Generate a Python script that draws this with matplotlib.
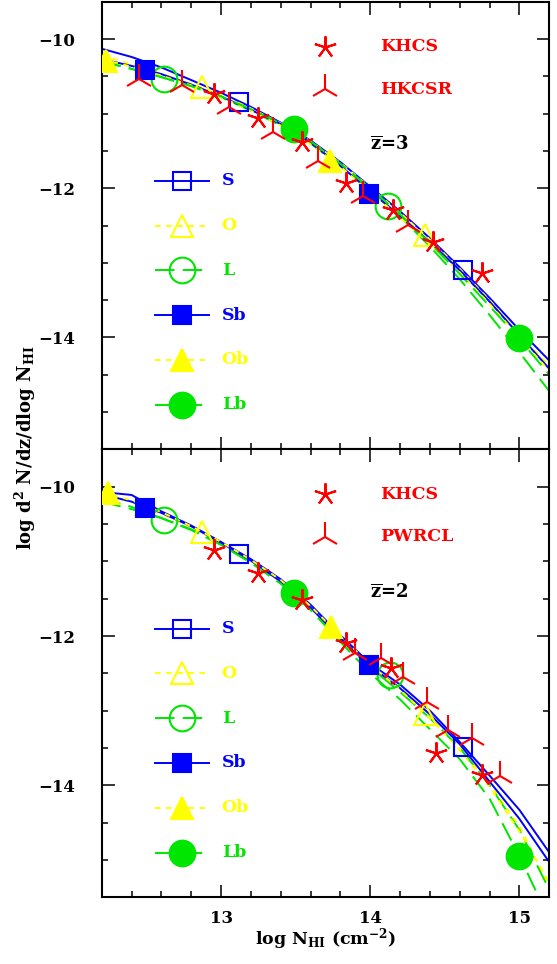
import matplotlib
matplotlib.use("Agg")
import matplotlib.pyplot as plt

plt.rcParams["font.family"] = "DejaVu Serif"
plt.rcParams["font.weight"] = "bold"
plt.rcParams["mathtext.fontset"] = "custom"
plt.rcParams["mathtext.rm"] = "DejaVu Serif:bold"
plt.rcParams["mathtext.bf"] = "DejaVu Serif:bold"
plt.rcParams["mathtext.it"] = "DejaVu Serif:bold"
plt.rcParams["mathtext.default"] = "rm"
plt.rcParams["lines.scale_dashes"] = False

BLUE, YELLOW, GREEN, RED = "#0000ff", "#ffff00", "#00e600", "#ff0000"

# ---------------- data: z = 3 (top panel) ----------------
x_grid = [12.2, 12.4, 12.6, 12.8, 13.0, 13.2, 13.4, 13.6, 13.8, 14.0, 14.2, 14.4, 14.6, 14.8, 15.0, 15.2]

z3_S  = [-10.13, -10.24, -10.38, -10.55, -10.72, -10.91, -11.12, -11.36, -11.65, -11.98, -12.31, -12.67, -13.06, -13.47, -13.90, -14.31]
z3_Sb = [-10.27, -10.36, -10.47, -10.61, -10.77, -10.95, -11.14, -11.39, -11.70, -12.04, -12.37, -12.72, -13.10, -13.52, -13.97, -14.42]
z3_O  = [-10.22, -10.34, -10.47, -10.60, -10.75, -10.93, -11.13, -11.37, -11.66, -11.99, -12.33, -12.69, -13.08, -13.50, -13.95, -14.38]
z3_Ob = [-10.27, -10.37, -10.49, -10.62, -10.78, -10.96, -11.16, -11.41, -11.71, -12.05, -12.39, -12.75, -13.13, -13.55, -14.00, -14.45]
z3_L  = [-10.30, -10.40, -10.51, -10.63, -10.78, -10.96, -11.16, -11.40, -11.70, -12.03, -12.38, -12.78, -13.22, -13.70, -14.20, -14.72]
z3_Lb = [-10.30, -10.40, -10.51, -10.63, -10.77, -10.94, -11.13, -11.37, -11.67, -12.00, -12.35, -12.73, -13.15, -13.58, -14.02, -14.50]

# marker positions on each model curve
z3_mark = {
    "S":  ([13.12, 14.62], [-10.84, -13.09]),
    "O":  ([12.87, 14.37], [-10.64, -12.63]),
    "L":  ([12.62, 14.12], [-10.53, -12.24]),
    "Sb": ([12.49, 13.99], [-10.41, -12.08]),
    "Ob": ([12.23, 13.73], [-10.29, -11.63]),
    "Lb": ([13.49, 15.00], [-11.20, -14.01]),
}

khcs3_x = [12.95, 13.25, 13.54, 13.84, 14.15, 14.42, 14.75]
khcs3_y = [-10.73, -11.06, -11.38, -11.93, -12.29, -12.72, -13.14]
hkcsr_x = [12.45, 12.74, 13.05, 13.35, 13.65, 13.95, 14.25]
hkcsr_y = [-10.53, -10.62, -10.91, -11.24, -11.64, -12.11, -12.49]

# ---------------- data: z = 2 (bottom panel) ----------------
z2_S  = [-10.07, -10.11, -10.33, -10.52, -10.74, -10.97, -11.24, -11.58, -11.99, -12.37, -12.65, -13.00, -13.42, -13.87, -14.33, -14.90]
z2_Sb = [-10.10, -10.20, -10.35, -10.53, -10.75, -10.99, -11.27, -11.62, -12.03, -12.40, -12.70, -13.05, -13.45, -13.95, -14.45, -15.03]
z2_O  = [-10.10, -10.20, -10.36, -10.54, -10.75, -10.99, -11.26, -11.61, -12.02, -12.40, -12.70, -13.08, -13.50, -13.98, -14.55, -15.35]
z2_Ob = [-10.08, -10.18, -10.34, -10.53, -10.74, -10.98, -11.25, -11.60, -12.00, -12.38, -12.72, -13.10, -13.53, -14.02, -14.62, -15.30]
z2_L  = [-10.20, -10.30, -10.42, -10.57, -10.77, -11.00, -11.27, -11.62, -12.05, -12.42, -12.75, -13.10, -13.50, -14.00, -14.60, -15.40]
z2_Lb_x = [12.2, 12.4, 12.6, 12.8, 13.0, 13.2, 13.4, 13.6, 13.8, 14.0, 14.2, 14.4, 14.6, 14.8, 15.0, 15.13]
z2_Lb = [-10.15, -10.27, -10.42, -10.58, -10.78, -11.02, -11.30, -11.65, -12.08, -12.50, -12.85, -13.25, -13.65, -14.18, -14.95, -15.50]

z2_mark = {
    "S":  ([13.12, 14.62], [-10.90, -13.48]),
    "O":  ([12.87, 14.37], [-10.60, -13.04]),
    "L":  ([12.62, 14.13], [-10.44, -12.52]),
    "Sb": ([12.49, 13.99], [-10.28, -12.39]),
    "Ob": ([12.24, 13.74], [-10.09, -11.88]),
    "Lb": ([13.49, 15.00], [-11.43, -14.95]),
}

khcs2_x = [12.95, 13.25, 13.54, 13.84, 14.14, 14.44, 14.75]
khcs2_y = [-10.85, -11.16, -11.52, -12.10, -12.43, -13.57, -13.86]
pwrcl_x = [13.90, 14.07, 14.22, 14.38, 14.52, 14.68, 14.87]
pwrcl_y = [-12.23, -12.30, -12.55, -12.88, -13.26, -13.37, -13.88]

model_names = ["S", "O", "L", "Sb", "Ob", "Lb"]

# ---------------- styles ----------------
STYLE = {
    "S":  dict(color=BLUE,   dashes=None,    marker="s", ms=13.5, filled=False),
    "O":  dict(color=YELLOW, dashes=(4, 4),  marker="^", ms=16,   filled=False),
    "L":  dict(color=GREEN,  dashes=(14, 6), marker="o", ms=18.5, filled=False),
    "Sb": dict(color=BLUE,   dashes=None,    marker="s", ms=13,   filled=True),
    "Ob": dict(color=YELLOW, dashes=(4, 4),  marker="^", ms=16,   filled=True),
    "Lb": dict(color=GREEN,  dashes=(14, 6), marker="o", ms=18.5, filled=True),
}
LW = 1.4
ASTER = (5, 2, 0)


def line_kw(name):
    st = STYLE[name]
    kw = dict(color=st["color"], lw=LW)
    if st["dashes"] is not None:
        kw["dashes"] = st["dashes"]
    return kw


def marker_kw(name):
    st = STYLE[name]
    return dict(ls="none", marker=st["marker"], ms=st["ms"], mew=1.5,
                mec=st["color"], mfc=st["color"] if st["filled"] else "none")


def draw_panel(ax, curves, marks, obs, zlabel):
    for name in model_names:
        xs, ys = curves[name]
        ax.plot(xs, ys, **line_kw(name), zorder=2)
    for name in model_names:
        mx, my = marks[name]
        ax.plot(mx, my, **marker_kw(name), zorder=3)
    (kx, ky, klab), (tx, ty, tlab) = obs
    ax.plot(kx, ky, ls="none", marker=ASTER, ms=16, mew=1.5, color=RED, zorder=4)
    ax.plot(tx, ty, ls="none", marker="2", ms=21, mew=1.5, color=RED, zorder=4)

    # model legend (left)
    rows = [0.60, 0.50, 0.40, 0.30, 0.20, 0.10]
    for name, ry in zip(model_names, rows):
        ax.plot([0.119, 0.240], [ry, ry], transform=ax.transAxes, **line_kw(name))
        ax.plot([0.179], [ry], transform=ax.transAxes, **marker_kw(name))
        ax.text(0.268, ry, name, transform=ax.transAxes, color=STYLE[name]["color"],
                fontsize=12.5, fontweight="bold", va="center", ha="left")

    # observations legend (upper right)
    ax.plot([0.499], [0.900], transform=ax.transAxes, ls="none", marker=ASTER,
            ms=16, mew=1.5, color=RED)
    ax.text(0.622, 0.900, klab, transform=ax.transAxes, color=RED,
            fontsize=12.5, fontweight="bold", va="center", ha="left")
    ax.plot([0.499], [0.805], transform=ax.transAxes, ls="none", marker="2",
            ms=21, mew=1.5, color=RED)
    ax.text(0.622, 0.805, tlab, transform=ax.transAxes, color=RED,
            fontsize=12.5, fontweight="bold", va="center", ha="left")

    ax.text(0.600, 0.680, zlabel, transform=ax.transAxes, color="black",
            fontsize=13, va="center", ha="left")

    ax.set_xlim(12.2, 15.2)
    ax.set_ylim(-15.5, -9.5)
    ax.set_xticks([13, 14, 15])
    ax.set_xticks([12.4, 12.6, 12.8, 13.2, 13.4, 13.6, 13.8, 14.2, 14.4, 14.6, 14.8, 15.2], minor=True)
    ax.set_yticks([-10, -12, -14])
    ax.set_yticks([-15.5, -15, -14.5, -13.5, -13, -12.5, -11.5, -11, -10.5, -9.5], minor=True)
    ax.tick_params(which="both", direction="in", top=True, right=True, width=1.1,
                   labelsize=12)
    ax.tick_params(which="major", length=9)
    ax.tick_params(which="minor", length=4.5)
    ax.tick_params(axis="y", pad=19)
    ax.tick_params(axis="x", pad=9)
    for sp in ax.spines.values():
        sp.set_linewidth(1.5)


fig = plt.figure(figsize=(5.57, 9.64), dpi=100)
ax_top = fig.add_axes([0.1826, 0.5338, 0.8036, 0.4644])
ax_bot = fig.add_axes([0.1826, 0.0692, 0.8036, 0.4646])

curves3 = {"S": (x_grid, z3_S), "O": (x_grid, z3_O), "L": (x_grid, z3_L),
           "Sb": (x_grid, z3_Sb), "Ob": (x_grid, z3_Ob), "Lb": (x_grid, z3_Lb)}
curves2 = {"S": (x_grid, z2_S), "O": (x_grid, z2_O), "L": (x_grid, z2_L),
           "Sb": (x_grid, z2_Sb), "Ob": (x_grid, z2_Ob), "Lb": (z2_Lb_x, z2_Lb)}

draw_panel(ax_top, curves3, z3_mark,
           [(khcs3_x, khcs3_y, "KHCS"), (hkcsr_x, hkcsr_y, "HKCSR")],
           r"$\overline{\rm z}$=3")
draw_panel(ax_bot, curves2, z2_mark,
           [(khcs2_x, khcs2_y, "KHCS"), (pwrcl_x, pwrcl_y, "PWRCL")],
           r"$\overline{\rm z}$=2")

ax_top.tick_params(labelbottom=False)

fig.text(0.584, 0.026, r"log N$_{\rm HI}$ (cm$^{-2}$)", ha="center", va="center",
         fontsize=12.5)
fig.text(0.045, 0.536, r"log d$^{2}$ N/dz/dlog N$_{\rm HI}$", ha="center",
         va="center", rotation=90, fontsize=13)

fig.savefig("out.png", dpi=100)
